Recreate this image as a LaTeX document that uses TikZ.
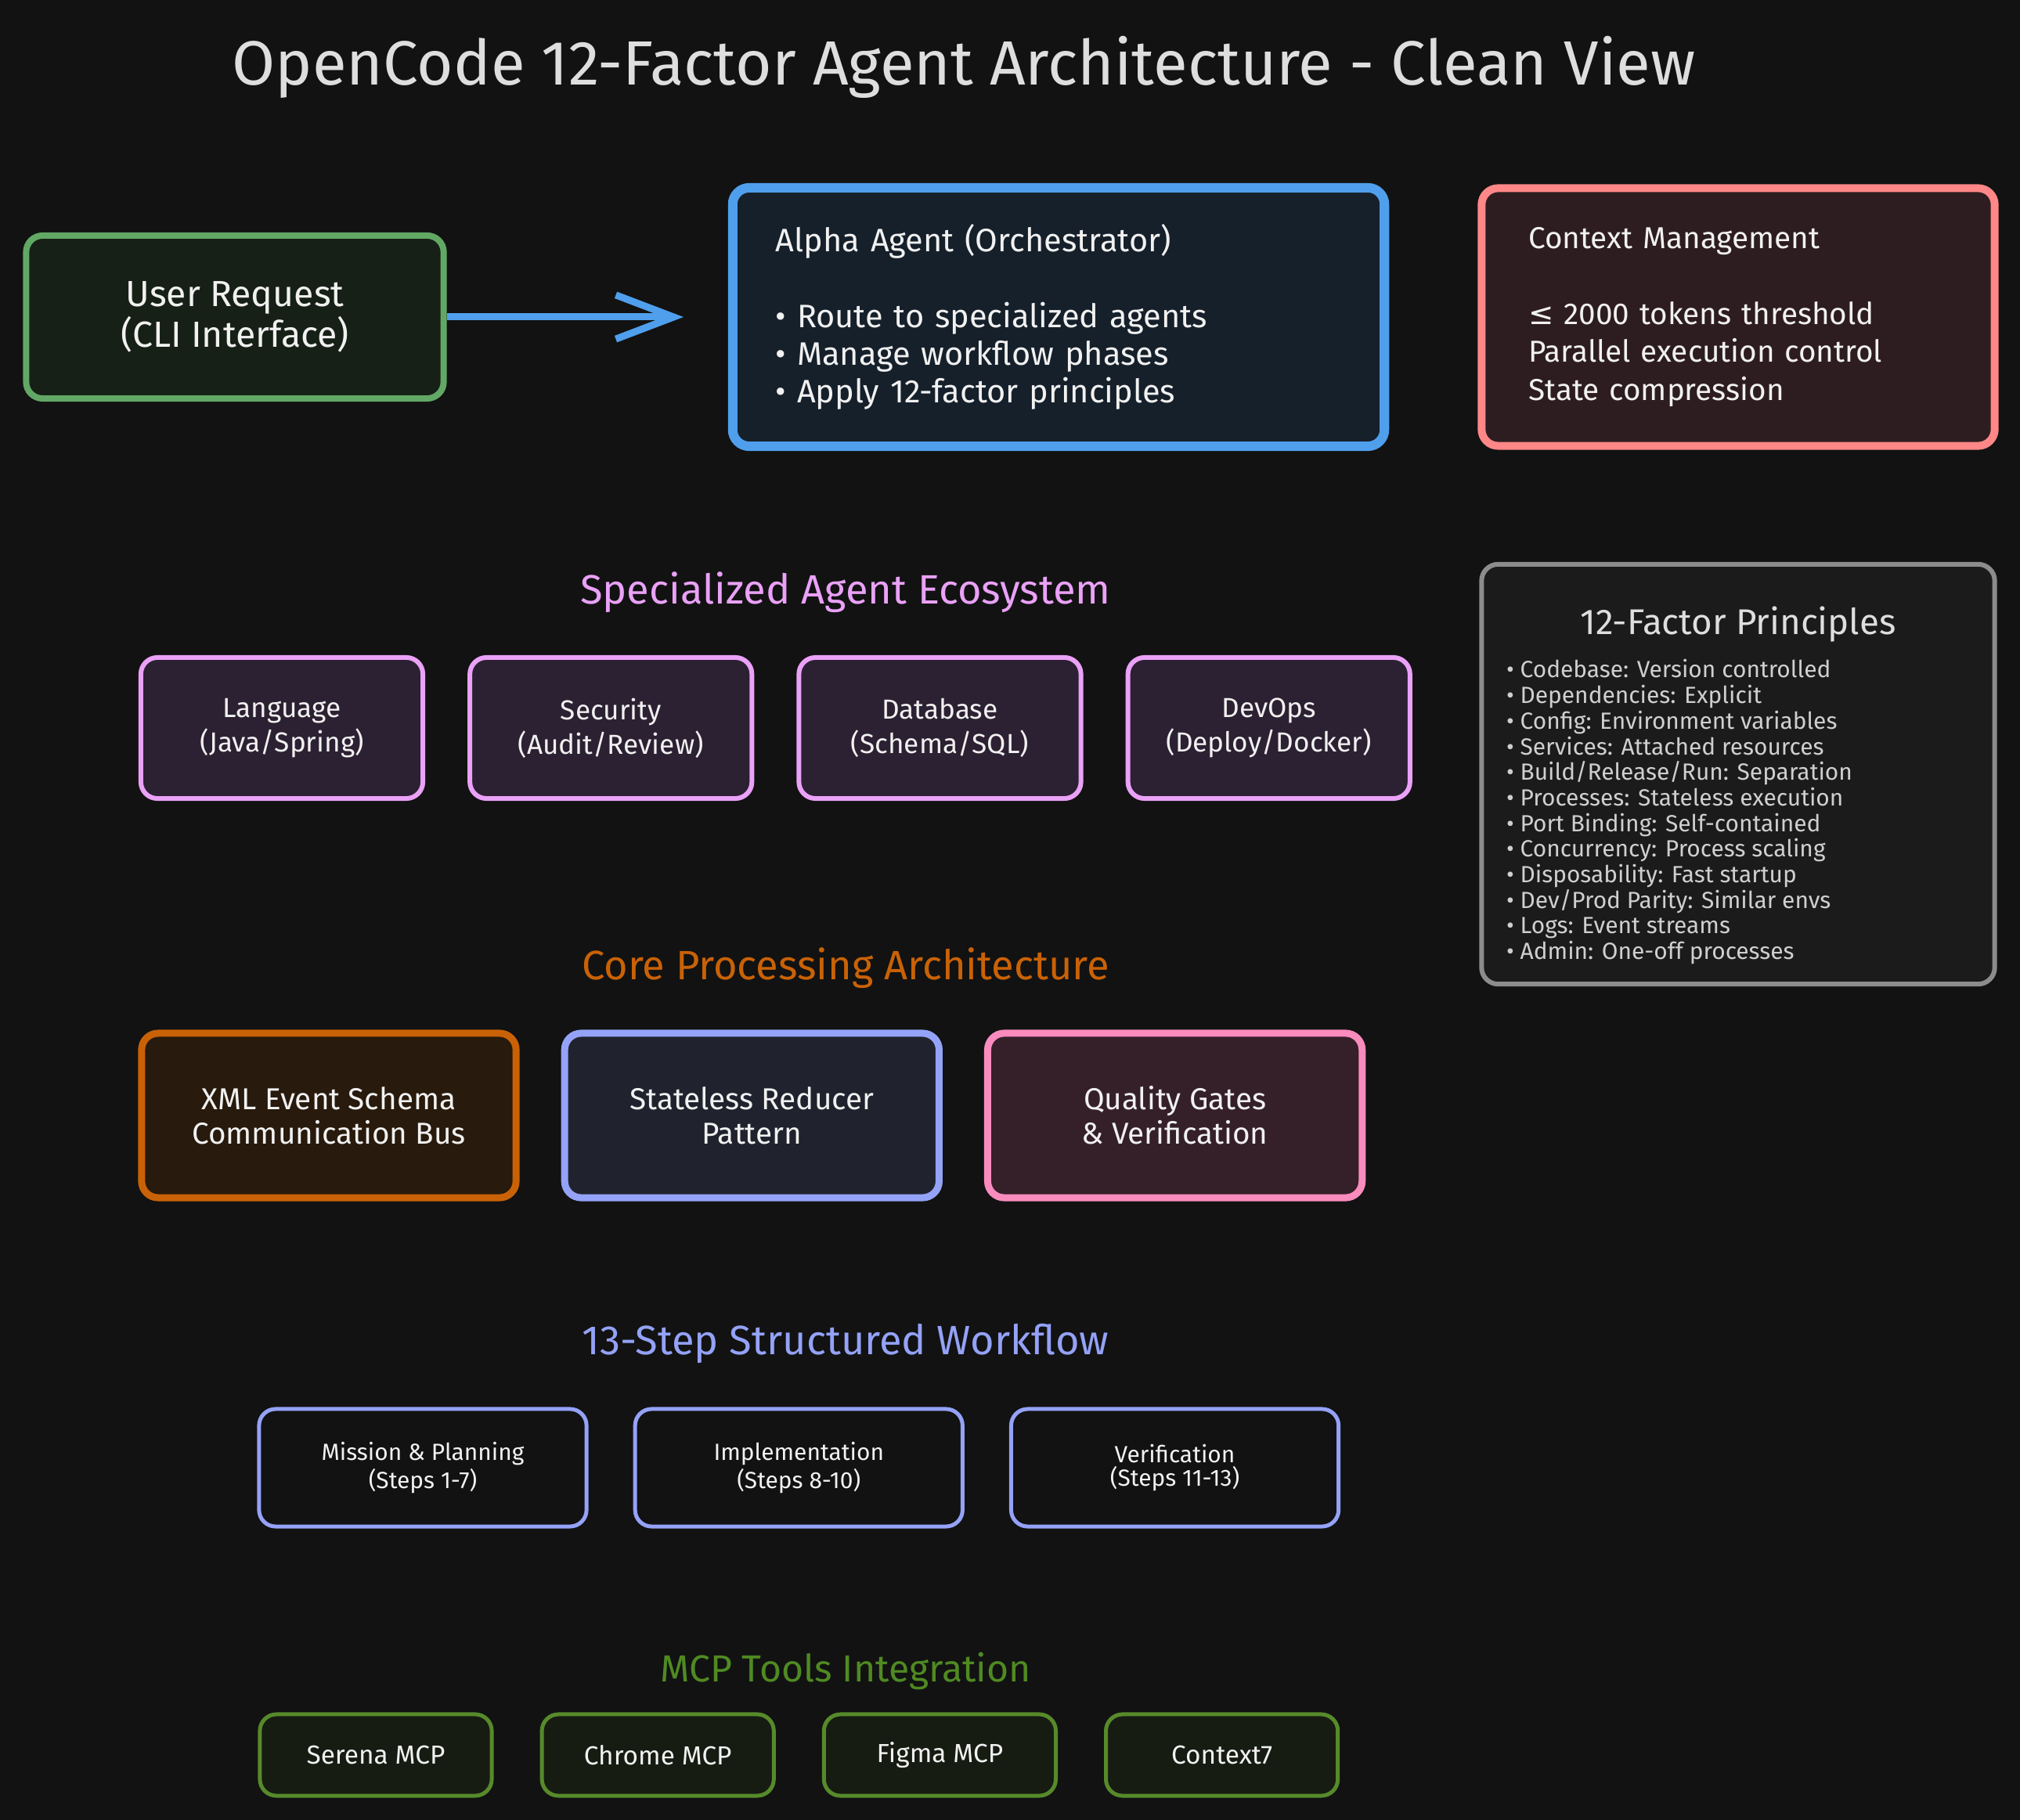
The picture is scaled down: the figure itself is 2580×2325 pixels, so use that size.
\documentclass[tikz,border=0pt]{standalone}
\usepackage{fontspec}
\setmainfont{Fira Sans}
\newfontfamily\symfont{DejaVu Sans}
\usepackage{tikz}
\usetikzlibrary{positioning, arrows.meta}

\definecolor{bgc}{HTML}{121212}
\definecolor{txt}{HTML}{F1F1F1}
\definecolor{titletxt}{HTML}{DEDEDE}
\definecolor{factortxt}{HTML}{CFCFCF}
\definecolor{usrline}{HTML}{62A865}
\definecolor{usrfill}{HTML}{172017}
\definecolor{alphaline}{HTML}{4F9FEC}
\definecolor{alphafill}{HTML}{16202B}
\definecolor{ctxline}{HTML}{FF8787}
\definecolor{ctxfill}{HTML}{2E1D20}
\definecolor{agline}{HTML}{EAA1F7}
\definecolor{agfill}{HTML}{2C2132}
\definecolor{facline}{HTML}{8C8C8C}
\definecolor{facfill}{HTML}{1B1B1B}
\definecolor{xmlline}{HTML}{C96206}
\definecolor{xmlfill}{HTML}{281A0C}
\definecolor{redline}{HTML}{94A2F7}
\definecolor{redfill}{HTML}{20232D}
\definecolor{qline}{HTML}{F98BBD}
\definecolor{qfill}{HTML}{352029}
\definecolor{mcpline}{HTML}{568A2A}
\definecolor{mcpfill}{HTML}{171C12}
\definecolor{mcptxt}{HTML}{4F8A22}

\begin{document}
\begin{tikzpicture}[
    x=0.01cm, y=-0.01cm,
  every node/.style={text=txt, align=center, inner sep=0pt},
  box/.style={rectangle, draw, rounded corners=6pt},
  sectitle/.style={font=\fontsize{14.9}{17}\selectfont},
  userbox/.style={box, draw=usrline, fill=usrfill, line width=0.08cm, minimum width=5.33cm, minimum height=2.08cm, font=\fontsize{13.2}{13.2}\selectfont},
  alphabox/.style={box, draw=alphaline, fill=alphafill, line width=0.12cm, text width=7.22cm, inner xsep=0.55cm, minimum height=3.3cm, align=left, font=\fontsize{11.8}{13.7}\selectfont},
  ctxbox/.style={box, draw=ctxline, fill=ctxfill, line width=0.10cm, text width=5.35cm, inner xsep=0.6cm, minimum height=3.29cm, align=left, font=\fontsize{11}{13.8}\selectfont},
  agentbox/.style={box, draw=agline, fill=agfill, line width=0.06cm, minimum width=3.6cm, minimum height=1.8cm, font=\fontsize{10}{12.5}\selectfont},
  corebox/.style={box, line width=0.09cm, minimum width=4.78cm, minimum height=2.1cm, font=\fontsize{11}{12.5}\selectfont},
  stepbox/.style={box, draw=redline, line width=0.05cm, minimum width=4.18cm, minimum height=1.5cm, font=\fontsize{8.5}{8.3}\selectfont},
  toolbox/.style={box, draw=mcpline, fill=mcpfill, line width=0.05cm, minimum width=2.96cm, minimum height=1.04cm, font=\fontsize{9.5}{11}\selectfont},
  factorbox/.style={box, draw=facline, fill=facfill, line width=0.06cm, minimum width=6.55cm, minimum height=5.36cm},
  flow/.style={draw=alphaline, line width=0.09cm, -{Straight Barb[length=21pt, width=16pt]}}
]

% background and page size
\fill[bgc] (0,0) rectangle (2580,2325);

\node[text=titletxt, font=\fontsize{22.7}{26}\selectfont] (title) at (1231,86) {OpenCode 12-Factor Agent Architecture - Clean View};

% top row
\node[userbox] (user) at (300,405) {User Request\\(CLI Interface)};
\coordinate (arrowtip) at (873,405);
\node[alphabox] (alpha) at (1352,405) {Alpha Agent (Orchestrator)\\[13.7pt]
  • Route to specialized agents\\
  • Manage workflow phases\\
  • Apply 12-factor principles};
\node[ctxbox] (context) at (2220,405) {Context Management\\[13.8pt]
  {\symfont ≤} 2000 tokens threshold\\
  Parallel execution control\\
  State compression};
\draw[flow] (user.east) -- (arrowtip);

% specialized agents
\node[sectitle, text=agline] (agenttitle) at (1080,757) {Specialized Agent Ecosystem};
\node[agentbox] (lang) at (360,930) {Language\\(Java/Spring)};
\node[agentbox, right=0.54cm of lang] (sec) {Security\\(Audit/Review)};
\node[agentbox, right=0.54cm of sec] (db) {Database\\(Schema/SQL)};
\node[agentbox, right=0.54cm of db] (ops) {DevOps\\(Deploy/Docker)};

% 12-factor principles
\node[factorbox] (factors) at (2220,989) {};
\node[text=titletxt, font=\fontsize{13}{15}\selectfont, below=0.56cm of factors.north] (factortitle) {12-Factor Principles};
\node[text=factortxt, align=left, font=\fontsize{8.5}{9.3}\selectfont, below right=1.24cm and 0.34cm of factors.north west] (factorlist) {%
  • Codebase: Version controlled\\
  • Dependencies: Explicit\\
  • Config: Environment variables\\
  • Services: Attached resources\\
  • Build/Release/Run: Separation\\
  • Processes: Stateless execution\\
  • Port Binding: Self-contained\\
  • Concurrency: Process scaling\\
  • Disposability: Fast startup\\
  • Dev/Prod Parity: Similar envs\\
  • Logs: Event streams\\
  • Admin: One-off processes};

% core processing
\node[sectitle, text=xmlline] (coretitle) at (1080,1237) {Core Processing Architecture};
\node[corebox, draw=xmlline, fill=xmlfill] (xml) at (420,1425) {XML Event Schema\\Communication Bus};
\node[corebox, draw=redline, fill=redfill, right=0.53cm of xml] (reducer) {Stateless Reducer\\Pattern};
\node[corebox, draw=qline, fill=qfill, right=0.53cm of reducer] (gates) {Quality Gates\\\& Verification};

% workflow
\node[sectitle, text=redline] (flowtitle) at (1080,1716) {13-Step Structured Workflow};
\node[stepbox] (mission) at (540,1875) {Mission \& Planning\\(Steps 1-7)};
\node[stepbox, right=0.57cm of mission] (impl) {Implementation\\(Steps 8-10)};
\node[stepbox, right=0.57cm of impl] (verify) {Verification\\(Steps 11-13)};

% mcp tools
\node[text=mcptxt, font=\fontsize{13.7}{15}\selectfont] (mcptitle) at (1080,2135) {MCP Tools Integration};
\node[toolbox] (serena) at (480,2242) {Serena MCP};
\node[toolbox, right=0.59cm of serena] (chrome) {Chrome MCP};
\node[toolbox, right=0.59cm of chrome] (figma) {Figma MCP};
\node[toolbox, right=0.59cm of figma] (ctx7) {Context7};

\end{tikzpicture}
\end{document}
